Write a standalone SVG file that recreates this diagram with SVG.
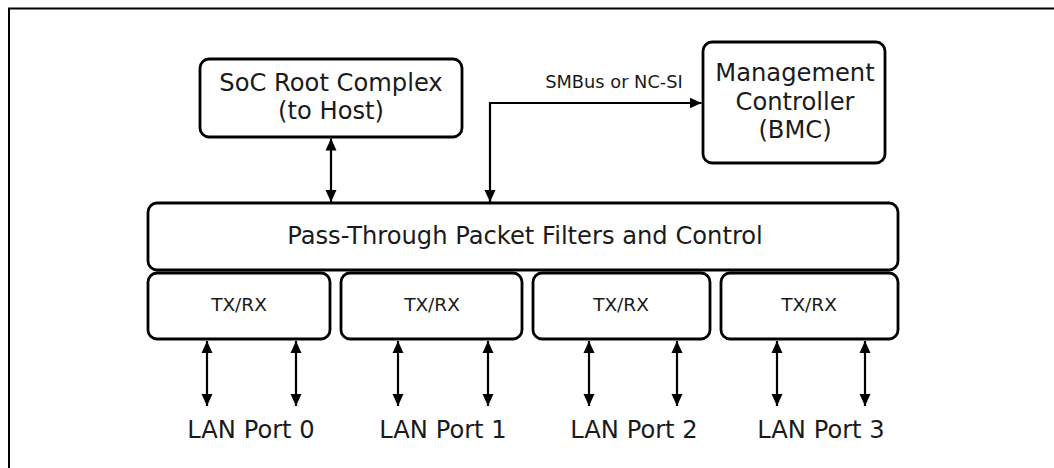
<svg xmlns="http://www.w3.org/2000/svg" width="1054" height="468" viewBox="0 0 1054 468">
<style>
.box{fill:#fff;stroke:#000;stroke-width:2.8}
.t{font-family:"DejaVu Sans",Verdana,sans-serif;fill:#1a1a1a;text-anchor:middle}
.big{font-size:24.2px}
.sm{font-size:18.5px}
.lb{font-size:17.8px}
.ln{stroke:#000;stroke-width:2.2;fill:none}
</style>
<defs>
<marker id="ah" viewBox="0 0 12 12" refX="12" refY="6" markerWidth="12" markerHeight="12" markerUnits="userSpaceOnUse" orient="auto-start-reverse">
<path d="M0,0.5 L12,6 L0,11.5 Z" fill="#000"/>
</marker>
</defs>
<rect width="1054" height="468" fill="#fff"/>
<path d="M9,468 V8.5 H1054" fill="none" stroke="#000" stroke-width="2"/>
<g id="soc">
<rect class="box" x="200" y="59" width="262" height="78" rx="9"/>
<text class="t big" x="331" y="91">SoC Root Complex</text>
<text class="t big" x="331" y="119">(to Host)</text>
</g>
<g id="bmc">
<rect class="box" x="703" y="42" width="182" height="121" rx="9"/>
<text class="t big" x="795" y="81">Management</text>
<text class="t big" x="795" y="110">Controller</text>
<text class="t big" x="795" y="138">(BMC)</text>
</g>
<g id="ptf">
<rect class="box" x="148" y="203" width="750" height="67" rx="9"/>
<text class="t big" x="525" y="244">Pass-Through Packet Filters and Control</text>
</g>
<g id="txrx0">
<rect class="box" x="148" y="273" width="182" height="66" rx="9"/>
<text class="t sm" x="239" y="311">TX/RX</text>
</g>
<g id="txrx1">
<rect class="box" x="341" y="273" width="181" height="66" rx="9"/>
<text class="t sm" x="432" y="311">TX/RX</text>
</g>
<g id="txrx2">
<rect class="box" x="533" y="273" width="177" height="66" rx="9"/>
<text class="t sm" x="621" y="311">TX/RX</text>
</g>
<g id="txrx3">
<rect class="box" x="721" y="273" width="177" height="66" rx="9"/>
<text class="t sm" x="809" y="311">TX/RX</text>
</g>
<g id="lan0"><text class="t big" x="251" y="438">LAN Port 0</text></g>
<g id="lan1"><text class="t big" x="443" y="438">LAN Port 1</text></g>
<g id="lan2"><text class="t big" x="634" y="438">LAN Port 2</text></g>
<g id="lan3"><text class="t big" x="821" y="438">LAN Port 3</text></g>
<g id="connectors">
<line class="ln" x1="331" y1="138.5" x2="331" y2="202" marker-start="url(#ah)" marker-end="url(#ah)"/>
<path class="ln" d="M701.5,103 H490 V202" marker-start="url(#ah)" marker-end="url(#ah)"/>
<text class="t lb" x="614" y="88">SMBus or NC-SI</text>
<line class="ln" x1="207" y1="341" x2="207" y2="406" marker-start="url(#ah)" marker-end="url(#ah)"/>
<line class="ln" x1="296" y1="341" x2="296" y2="406" marker-start="url(#ah)" marker-end="url(#ah)"/>
<line class="ln" x1="398" y1="341" x2="398" y2="406" marker-start="url(#ah)" marker-end="url(#ah)"/>
<line class="ln" x1="488" y1="341" x2="488" y2="406" marker-start="url(#ah)" marker-end="url(#ah)"/>
<line class="ln" x1="589" y1="341" x2="589" y2="406" marker-start="url(#ah)" marker-end="url(#ah)"/>
<line class="ln" x1="677" y1="341" x2="677" y2="406" marker-start="url(#ah)" marker-end="url(#ah)"/>
<line class="ln" x1="777" y1="341" x2="777" y2="406" marker-start="url(#ah)" marker-end="url(#ah)"/>
<line class="ln" x1="865" y1="341" x2="865" y2="406" marker-start="url(#ah)" marker-end="url(#ah)"/>
</g>
</svg>
